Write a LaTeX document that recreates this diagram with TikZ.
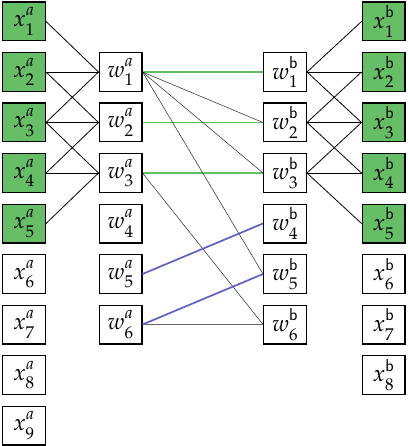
\documentclass[tikz,border=0pt]{standalone}
\usepackage{mathpazo}
\DeclareMathSizes{23}{23}{17}{13}
\newcommand{\cellfont}{\fontsize{23}{27}\selectfont}
\newcommand{\sv}[3]{\cellfont$#1^{\raisebox{2.5pt}{$\scriptstyle #2$}}_{\raisebox{-3pt}{$\scriptstyle #3$}}$}
\definecolor{boxgreen}{RGB}{102,190,102}
\definecolor{linegreen}{RGB}{100,190,100}
\definecolor{lineblue}{RGB}{95,95,200}
\tikzset{
  cell/.style={draw=black, line width=1.4pt, fill=white, minimum width=42.6pt, minimum height=38.6pt, inner sep=0pt},
  on/.style={cell, fill=boxgreen},
  link/.style={draw=black, line width=0.8pt},
  thinlink/.style={draw=black!85, line width=0.5pt},
  glink/.style={draw=linegreen, line width=1.7pt},
  blink/.style={draw=lineblue, line width=1.7pt},
  grlink/.style={draw=black!60, line width=0.7pt}
}
\begin{document}
\begin{tikzpicture}[x=1pt,y=-1pt]
\useasboundingbox (0,0) rectangle (407,446);
% left x^a column
\foreach \i in {1,...,9} {
  \pgfmathsetmacro{\yy}{21.5+50.5*(\i-1)}
  \ifnum\i<6
    \node[on] (xa\i) at (24,\yy) {\sv{x}{a}{\i}};
  \else
    \node[cell] (xa\i) at (24,\yy) {\sv{x}{a}{\i}};
  \fi
}
% w^a column
\foreach \j in {1,...,6} {
  \pgfmathsetmacro{\yy}{72+50.5*(\j-1)}
  \node[cell] (wa\j) at (120.5,\yy) {\sv{w}{a}{\j}};
}
% w^b column
\foreach \j in {1,...,6} {
  \pgfmathsetmacro{\yy}{72+50.5*(\j-1)}
  \node[cell] (wb\j) at (285,\yy) {\sv{w}{\mathsf{b}}{\j}};
}
% x^b column
\foreach \i in {1,...,8} {
  \pgfmathsetmacro{\yy}{21.5+50.5*(\i-1)}
  \ifnum\i<6
    \node[on] (xb\i) at (383.5,\yy) {\sv{x}{\mathsf{b}}{\i}};
  \else
    \node[cell] (xb\i) at (383.5,\yy) {\sv{x}{\mathsf{b}}{\i}};
  \fi
}
\foreach \a/\b in {1/1,2/1,2/2,3/1,3/2,3/3,4/2,4/3,5/3}
  \draw[link] (xa\a.east) -- (wa\b.west);
\foreach \a/\b in {1/1,1/2,1/3,2/2,2/3,2/4,3/3,3/4,3/5}
  \draw[link] (wb\a.east) -- (xb\b.west);
\draw[glink] (wa1.east) -- (wb1.west);
\draw[glink] (wa2.east) -- (wb2.west);
\draw[glink] (wa3.east) -- (wb3.west);
\draw[thinlink] (wa1.east) -- (wb2.west);
\draw[thinlink] (wa1.east) -- (wb3.west);
\draw[thinlink] (wa1.east) -- (wb5.west);
\draw[thinlink] (wa3.east) -- (wb6.west);
\draw[grlink] (wa6.east) -- (wb6.west);
\draw[blink] (wa5.east) -- (wb4.west);
\draw[blink] (wa6.east) -- (wb5.west);
\end{tikzpicture}
\end{document}
